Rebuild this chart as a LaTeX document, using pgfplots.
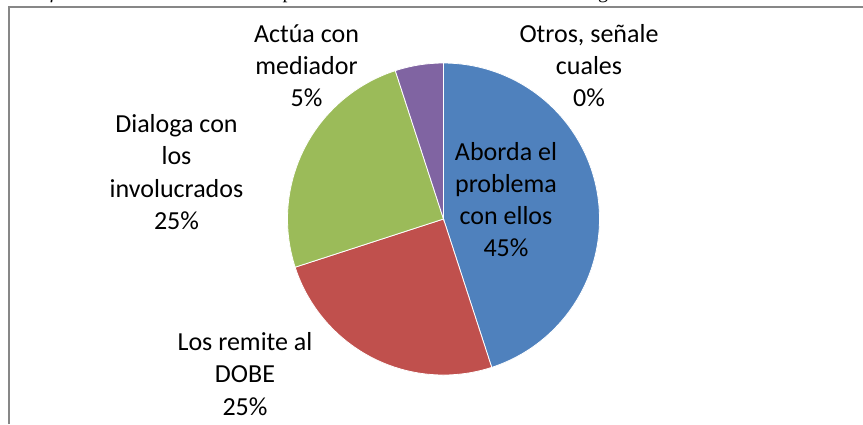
\documentclass[border=0pt]{standalone}
\usepackage{pgfplots}
\pgfplotsset{compat=1.18}
\usepackage{fontspec}
\setmainfont{Carlito}
\newfontfamily\seriffont{Liberation Serif}
\definecolor{cblue}{HTML}{4F81BD}
\definecolor{cred}{HTML}{C0504D}
\definecolor{cgreen}{HTML}{9BBB59}
\definecolor{cpurple}{HTML}{8064A2}
\definecolor{frame}{HTML}{878787}
% values (percent), clockwise from 12 o'clock
\def\vA{45}% Aborda el problema con ellos
\def\vB{25}% Los remite al DOBE
\def\vC{25}% Dialoga con los involucrados
\def\vD{5}%  Actua con mediador
\def\vE{0}%  Otros
\pgfmathsetmacro\aA{90}
\pgfmathsetmacro\aB{\aA-3.6*\vA}
\pgfmathsetmacro\aC{\aB-3.6*\vB}
\pgfmathsetmacro\aD{\aC-3.6*\vC}
\pgfmathsetmacro\aE{\aD-3.6*\vD}
\def\cx{443.5}\def\cy{219}\def\R{156}
\begin{document}
\begin{tikzpicture}[x=1bp,y=1bp]
\useasboundingbox (0,0) rectangle (863,-424);
\fill[white] (0,0) rectangle (863,-424);
% caption line at the top, cut off by the page edge (only descenders show)
\begin{scope}
\clip (0,0) rectangle (863,-6);
\node[anchor=base west, inner sep=0, font=\seriffont\fontsize{20bp}{24bp}\selectfont] at (18,1.5)
  {\textit{Gráfico N. 4} Actitud frente a los problemas de los estudiantes en el Colegio Nacional};
\end{scope}
\draw[frame, line width=2bp] (9,-424) -- (9,-6.5) -- (863,-6.5);
\begin{axis}[at={(0,0)}, anchor=north west, x=1bp, y=1bp, y dir=reverse,
  xmin=0, xmax=863, ymin=0, ymax=424, hide axis, scale only axis, clip=false]
\addplot[fill=cblue, draw=white, line width=0.8bp, domain=\aB:\aA, samples=120, variable=\t]
  ({\cx+\R*cos(\t)},{\cy-\R*sin(\t)}) -- (axis cs:\cx,\cy) -- cycle;
\addplot[fill=cred, draw=white, line width=0.8bp, domain=\aC:\aB, samples=80, variable=\t]
  ({\cx+\R*cos(\t)},{\cy-\R*sin(\t)}) -- (axis cs:\cx,\cy) -- cycle;
\addplot[fill=cgreen, draw=white, line width=0.8bp, domain=\aD:\aC, samples=80, variable=\t]
  ({\cx+\R*cos(\t)},{\cy-\R*sin(\t)}) -- (axis cs:\cx,\cy) -- cycle;
\addplot[fill=cpurple, draw=white, line width=0.8bp, domain=\aE:\aD, samples=20, variable=\t]
  ({\cx+\R*cos(\t)},{\cy-\R*sin(\t)}) -- (axis cs:\cx,\cy) -- cycle;
\end{axis}
% data labels
\begin{scope}[every node/.style={anchor=base, inner sep=0, font=\fontsize{26bp}{31.7bp}\selectfont}]
\foreach \l [count=\i from 0] in {Actúa con, mediador, 5\%}
  \node at (306.5,{-42-32.2*\i}) {\l};
\foreach \l [count=\i from 0] in {{Otros, señale}, cuales, 0\%}
  \node at (589,{-42-32.2*\i}) {\l};
\foreach \l [count=\i from 0] in {Dialoga con, los, involucrados, 25\%}
  \node at (176.5,{-132.7-32.2*\i}) {\l};
\foreach \l [count=\i from 0] in {Aborda el, problema, con ellos, 45\%}
  \node at (506,{-160-32.2*\i}) {\l};
\foreach \l [count=\i from 0] in {Los remite al, DOBE, 25\%}
  \node at (245,{-350.7-32.2*\i}) {\l};
\end{scope}
\end{tikzpicture}
\end{document}
